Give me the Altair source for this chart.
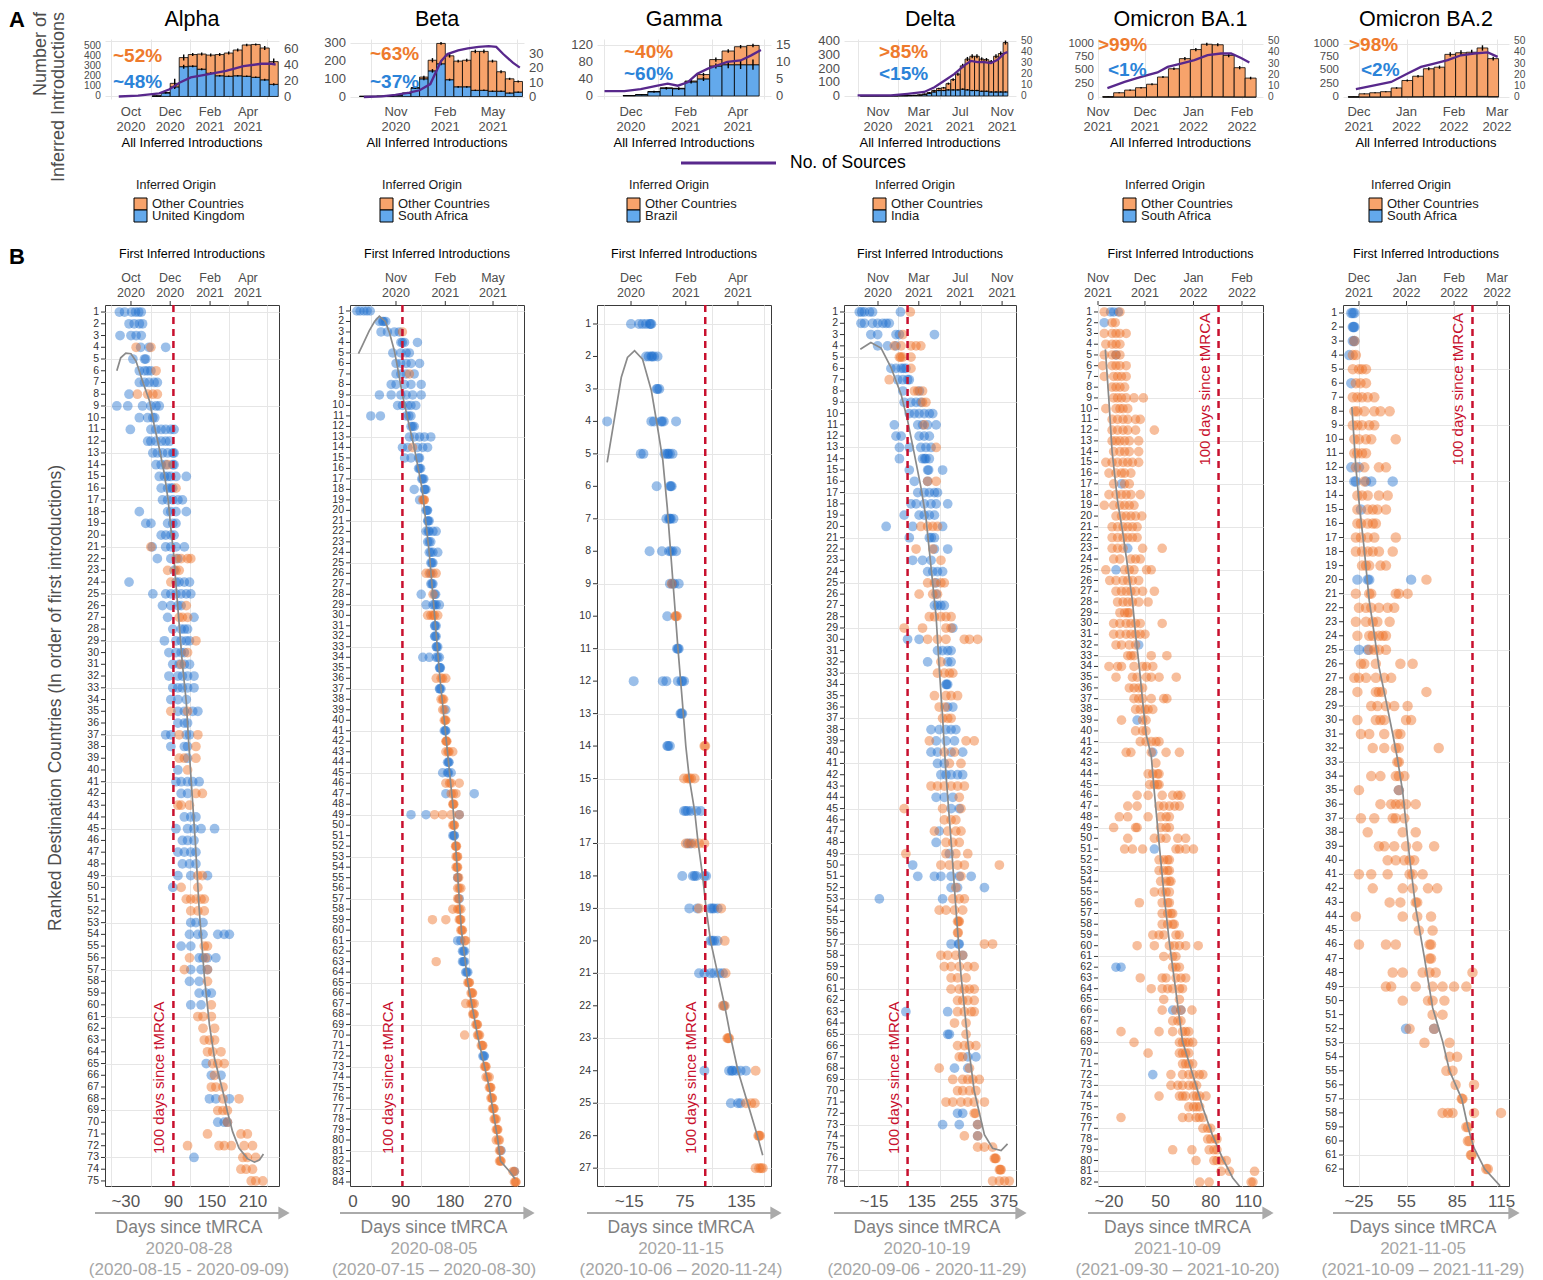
import altair as alt
import pandas as pd

alt.data_transformers.disable_max_rows()
FONT = "Liberation Sans"
BLUE_BAR, ORANGE_BAR = "#63A9EC", "#F7A36B"
BLUE_DOT, ORANGE_DOT = "#1B6DCC", "#EC6A1E"
BLUE_TXT, ORANGE_TXT = "#2B83D8", "#EE7A2C"
PURPLE = "#58288C"
RED = "#C8102E"
GRID = "#E6E6E6"
INK = "#4D4D4D"

# ---------------------------------------------------------------- labels
LINEAGES = ["Alpha", "Beta", "Gamma", "Delta", "Omicron BA.1", "Omicron BA.2"]
ORIGINS = ["United Kingdom", "South Africa", "Brazil", "India", "South Africa", "South Africa"]
TMRCA = ["2020-08-28", "2020-08-05", "2020-11-15", "2020-10-19", "2021-10-09", "2021-11-05"]
TMRCA_RANGE = ["(2020-08-15 - 2020-09-09)", "(2020-07-15 \u2013 2020-08-30)", "(2020-10-06 \u2013 2020-11-24)",
               "(2020-09-06 - 2020-11-29)", "(2021-09-30 \u2013 2021-10-20)", "(2021-10-09 \u2013 2021-11-29)"]
PCT_OTHER = ["~52%", "~63%", "~40%", ">85%", ">99%", ">98%"]
PCT_ORIGIN = ["~48%", "~37%", "~60%", "<15%", "<1%", "<2%"]
MONTHS = [["2020-10-01", "2020-12-01", "2021-02-01", "2021-04-01"],
          ["2020-11-01", "2021-02-01", "2021-05-01"],
          ["2020-12-01", "2021-02-01", "2021-04-01"],
          ["2020-11-01", "2021-03-01", "2021-07-01", "2021-11-01"],
          ["2021-11-01", "2021-12-01", "2022-01-01", "2022-02-01"],
          ["2021-12-01", "2022-01-01", "2022-02-01", "2022-03-01"]]
DAY_TICK_POS = [[26, 100, 160, 224], [8, 97, 189, 278], [14, 77, 141],
                [1, 142, 266, 384], [30, 63, 95, 119], [26, 57, 90, 119]]
DAY_TICK_LAB = [["~30", "90", "150", "210"], ["0", "90", "180", "270"], ["~15", "75", "135"],
                ["~15", "135", "255", "375"], ["~20", "50", "80", "110"], ["~25", "55", "85", "115"]]
LINE_DAYS = 100

# ---------------------------------------------------------------- panel A data (days since tMRCA)
BIN_START = [67, 20, 7, -39, 26, 19]
BIN_DAYS = [14, 16, 14, 14, 7, 7]
ALPHA_TOTAL = [5, 40, 130, 385, 415, 420, 410, 415, 430, 460, 510, 515, 480, 345]
ALPHA_ORIG = [5, 35, 95, 295, 300, 270, 230, 205, 200, 205, 200, 190, 165, 120]
ALPHA_ERR = [2, 6, 45, 30, 15, 15, 15, 15, 15, 15, 12, 10, 20, 30]
ALPHA_ERR_O = [2, 5, 20, 20, 10, 10, 10, 8, 8, 8, 8, 8, 10, 12]
BETA_TOTAL = [1, 1, 2, 2, 8, 20, 50, 110, 205, 300, 230, 200, 205, 255, 255, 200, 140, 100, 85]
BETA_ORIG = [1, 1, 2, 2, 8, 18, 48, 100, 145, 185, 95, 55, 55, 35, 35, 30, 30, 20, 25]
BETA_ERR = [0, 0, 0, 0, 2, 3, 5, 8, 12, 8, 10, 8, 8, 10, 10, 8, 8, 6, 6]
BETA_ERR_O = [0, 0, 0, 0, 2, 3, 5, 8, 10, 8, 6, 5, 5, 4, 4, 4, 4, 3, 3]
GAMMA_TOTAL = [1, 3, 10, 19, 18, 35, 50, 85, 105, 115, 118]
GAMMA_ORIG = [1, 3, 10, 18, 17, 33, 40, 70, 73, 73, 73]
GAMMA_ERR = [0, 1, 1, 2, 2, 3, 4, 5, 4, 4, 4]
GAMMA_ERR_O = [0, 1, 2, 3, 3, 4, 5, 6, 8, 10, 12]
DELTA_TOTAL = [1, 1, 1, 1, 1, 1, 2, 2, 3, 3, 4, 5, 8, 15, 25, 40, 55, 60, 90, 120, 160, 220, 270,
               290, 290, 270, 265, 250, 290, 310, 390]
DELTA_ORIG = [1, 1, 1, 1, 1, 1, 1, 1, 2, 2, 3, 4, 6, 10, 18, 30, 40, 40, 45, 45, 45, 50, 45,
              40, 40, 35, 35, 30, 30, 30, 30]
DELTA_ERR = [0, 0, 0, 0, 0, 0, 0, 0, 0, 0, 0, 0, 2, 3, 4, 5, 6, 6, 8, 10, 12, 15, 15, 15, 15,
             12, 12, 12, 15, 15, 15]
DELTA_ERR_O = [0, 0, 0, 0, 0, 0, 0, 0, 0, 0, 0, 0, 2, 2, 3, 4, 5, 5, 5, 5, 5, 5, 5, 5, 5, 4, 4,
               4, 4, 4, 4]
BA1_TOTAL = [5, 80, 130, 175, 240, 375, 530, 720, 890, 990, 980, 780, 550, 355]
BA1_ORIG = [1, 2, 2, 2, 3, 4, 4, 5, 5, 6, 5, 4, 3, 2]
BA1_ERR = [3, 10, 12, 15, 18, 20, 25, 30, 30, 30, 30, 35, 30, 25]
BA1_ERR_O = [0] * 14
BA2_TOTAL = [5, 60, 80, 100, 170, 310, 390, 530, 560, 800, 830, 840, 920, 720]
BA2_ORIG = [1, 2, 2, 3, 4, 5, 6, 8, 8, 10, 10, 10, 12, 8]
BA2_ERR = [3, 8, 10, 10, 15, 20, 25, 30, 30, 40, 45, 45, 50, 35]
BA2_ERR_O = [0] * 14

ALPHA_SRC_D = [15, 45, 78, 94, 111, 127, 155, 182, 209, 237, 253, 259]
ALPHA_SRC_V = [0, 1, 4, 9, 18, 24, 28, 32, 38, 41, 41, 40]
BETA_SRC_D = [28, 61, 87, 113, 132, 152, 172, 184, 204, 222, 242, 261, 275, 288, 306, 319]
BETA_SRC_V = [0, 0.5, 1.5, 3, 4.7, 9, 25, 30, 32.5, 34, 35, 35.5, 35, 30, 24, 20.5]
GAMMA_SRC_D = [-14, 8.5, 27, 46, 57.5, 69, 80, 91, 103, 114, 125, 140, 152, 163]
GAMMA_SRC_V = [1.4, 1.4, 2, 3, 3.6, 3, 4, 6.5, 8, 9, 10, 10.4, 11.9, 13.5]
DELTA_SRC_D = [-47, 51, 100, 149, 179, 208, 237, 267, 286, 306, 326, 345, 365, 385, 394]
DELTA_SRC_V = [0.6, 0.6, 2, 3.7, 8, 14, 20, 28, 32, 31, 31, 30, 33, 39, 40]
BA1_SRC_D = [29, 40, 50.5, 61, 67.5, 76, 84.6, 93, 101.6, 108, 114.4, 119.7]
BA1_SRC_V = [8, 13.5, 18, 22, 27, 30, 33, 37.5, 39, 39, 35, 31]
BA2_SRC_D = [24, 36, 47, 57.7, 66.4, 75, 83.8, 92.5, 101, 110, 116.4]
BA2_SRC_V = [7, 10.5, 13.5, 21, 27, 30, 33, 37.4, 39, 40, 36]

YL_MAJ = [[0, 100, 200, 300, 400, 500], [0, 100, 200, 300], [0, 40, 80, 120],
          [0, 100, 200, 300, 400], [0, 250, 500, 750, 1000], [0, 250, 500, 750, 1000]]
YR_MAJ = [[0, 20, 40, 60], [0, 10, 20, 30], [0, 5, 10, 15], [0, 10, 20, 30, 40, 50],
          [0, 10, 20, 30, 40, 50], [0, 10, 20, 30, 40, 50]]

# ---------------------------------------------------------------- panel B data: first introductions per ranked country
ALPHA_BLUE = [[16, 24, 35, 41, 46, 50], [31, 39, 47, 52], [17, 34, 42, 50], [49, 62, 88], [37, 55, 57],
              [47, 55, 60, 65], [47, 55, 62, 70, 75], [31], [12, 29, 52, 65, 73, 78], [47, 60, 68, 71],
              [33, 65, 73, 81, 88, 96, 101], [60, 65, 73, 81, 88, 94], [68, 75, 83, 91, 99, 101],
              [73, 81, 88, 99, 101], [78, 86, 91, 96, 104, 120], [81, 91, 96, 99], [83, 91, 99, 107, 114],
              [47, 91, 96, 104, 120], [57, 65, 91, 99, 104], [81, 88, 96, 101], [67, 88, 96, 104, 117],
              [75, 96, 107], [101], [31, 104, 109, 117, 125], [68, 88, 96, 104, 112, 120, 127],
              [83, 96, 107, 112], [91, 132], [99, 112, 117, 122], [86, 104, 112, 120, 125], [93, 104, 112, 117],
              [99, 109, 117, 125], [93, 107, 114, 122, 132], [99, 107, 114, 122, 132], [96, 107, 120],
              [107, 117, 130, 138], [107, 117, 122], [88, 96, 120, 125], [96, 117, 122], [122], [107],
              [104, 112, 122, 130, 140], [112, 122], [], [117, 127, 135], [104, 122, 132, 143, 164],
              [114, 122, 132], [107, 117, 127, 135], [114, 125, 135], [107, 127, 153], [99], [], [],
              [127, 135, 146], [125, 138, 146, 169, 179, 187], [112, 127], [140, 146, 153, 166],
              [127, 143, 153], [125, 140], [140, 151, 159], [127, 143], [], [], [], [], [151], [159, 174], [],
              [156, 166, 187], [], [169, 179, 184], [], [], [132], [], []]
ALPHA_ORANGE = [[], [], [], [42, 65], [], [73], [], [44, 60, 68, 75], [], [], [], [], [], [91], [], [104], [],
                [], [], [], [65], [104, 112, 122, 127], [91, 104, 109], [96], [], [120], [109, 114, 122], [],
                [135], [122], [112], [], [], [], [96, 122], [], [109, 138], [135], [109, 117, 135], [122], [],
                [135, 145], [107, 112, 125], [], [], [], [], [], [138, 145], [112, 138],
                [120, 127, 135, 143, 148], [127, 138, 148], [], [], [148, 153], [125, 150], [117, 153], [153],
                [], [159], [138, 146, 159], [146, 164], [148, 156, 164], [153, 161, 174], [161, 169, 179],
                [164], [159, 166, 177], [177, 202], [169, 177, 184], [184], [153, 205, 215],
                [122, 171, 179, 190, 210, 223], [208, 215, 228], [205, 213, 223], [221, 228, 239]]
BETA_BLUE = [[15, 21, 28, 34, 40], [57, 63, 65, 69], [60, 72, 85, 94], [97, 100, 104, 128], [82, 97, 107, 113],
             [88, 97, 107, 116, 132], [88, 97, 107, 122], [79, 88, 104, 116, 135], [57, 79, 97, 107, 119, 135],
             [91, 100, 110, 116, 125], [41, 59, 107, 112, 116], [116, 119, 122], [113, 122, 132, 141, 153],
             [100, 110, 128, 138, 147], [104, 116, 130, 132], [130, 132, 134], [136, 138, 140],
             [122, 141, 142, 144], [132], [144, 146, 147], [147, 148, 150], [144, 148, 150, 157, 163],
             [147, 150, 153], [150, 153, 157, 166], [153, 155, 157], [153], [153, 155, 157], [135, 160, 162],
             [144, 157, 160, 163, 169], [], [160, 161, 163], [160, 161, 163], [163, 164, 166],
             [138, 150, 163, 166, 169], [169, 170, 171], [], [169, 170, 172], [], [181], [], [178, 180, 181],
             [], [], [184, 186, 187], [175, 184, 186, 191], [], [181, 234], [], [116, 144, 206], [],
             [194, 196, 197], [], [], [], [203], [], [206], [], [], [], [203, 209], [212, 214, 216],
             [212, 214, 216], [218, 220, 222], [], [], [], [], [], [], [], [250, 252, 253], [], [], [], [], [],
             [], [], [], [284], [], [309], []]
BETA_ORANGE = [[], [], [100], [], [], [], [113], [], [], [], [], [], [], [119], [], [], [], [], [138, 140, 141],
               [], [], [], [], [], [], [144, 150, 157, 163], [], [157], [], [147, 153, 157, 160, 166], [], [], [],
               [], [], [163, 172, 175, 181], [], [172, 175, 177], [175, 178], [178, 180, 181], [],
               [181, 182, 183], [181, 185, 187, 194], [], [], [181, 188, 191, 206], [191, 195, 200],
               [194, 195, 196], [160, 175, 191, 206], [194, 196, 197], [], [199, 200, 201], [200, 202, 203],
               [200, 202, 203], [203, 205], [203, 206, 209], [203, 205], [194, 203, 206, 209],
               [156, 181, 206, 208, 209], [209, 211, 212], [216, 218], [], [163], [], [222, 224, 225],
               [228, 230, 231], [218, 228, 231, 234], [231, 233, 234], [237, 239, 240], [216, 240, 242, 244],
               [247, 249, 250], [], [253, 255, 256], [256, 259, 262], [262, 264, 265], [265, 267, 268],
               [268, 270, 271], [271, 273, 275], [275, 277, 278], [275, 279, 281], [281, 283],
               [281, 283, 284], [306, 309], [309, 311, 312]]
GAMMA_BLUE = [[16, 25, 29, 33, 37, 38, 39], [33, 36, 39, 40, 42, 46], [45, 46, 48], [-11, 39, 42, 50, 51, 53, 67],
              [27, 30, 54, 57, 58, 60, 63], [45, 60, 61, 62], [56, 59, 60, 61, 64], [37, 51, 59, 61, 63, 67],
              [60, 63, 65, 70], [57], [68, 69, 70], [19, 52, 56, 69, 73, 74, 76], [72, 73, 74], [57, 58, 60],
              [], [76, 78, 80, 84, 90, 95], [80, 84], [74, 86, 88, 90, 99, 101],
              [82, 91, 106, 108, 110, 114], [106, 108, 110, 114], [93, 99, 106, 110, 116, 120], [121], [],
              [99, 127, 130, 131, 135, 140, 146], [129, 137, 140], [], []]
GAMMA_ORANGE = [[], [], [], [], [], [], [], [], [62], [66, 67, 68], [], [], [], [99, 100],
                [76, 80, 82, 84, 88], [], [78, 82, 88, 93, 99], [], [93, 118], [122], [123], [120, 122],
                [125, 126, 127], [157], [146, 152, 156], [160, 161, 162], [157, 161, 163, 165]]
DELTA_BLUE = [[-42, -35, -27, -12, -3, 79], [-37, -27, -3, 12, 27, 37, 46], [-8, 12, 66, 76, 179], [12, 41, 66],
              [], [51, 66, 81, 88, 95], [71, 86, 100, 105], [86, 135], [90, 110, 125, 139],
              [105, 120, 134, 149, 164, 174], [61, 130, 144, 159, 184], [66, 81, 134, 149, 164],
              [76, 105, 139, 154, 169], [76, 144, 150, 154, 164], [105, 159, 162, 203], [120, 159],
              [130, 149, 164, 179, 188], [110, 125, 149, 169, 184, 218], [90, 134, 149, 164, 179],
              [37, 115, 203], [105, 164, 170, 179], [179, 218], [115, 144, 169], [159, 174, 188, 203], [184],
              [184], [179, 188, 198, 208], [], [233], [100, 134], [188, 203, 218, 228], [159, 218, 228], [],
              [213, 215, 218], [], [218, 233], [], [169, 193, 213, 228, 242], [184, 213, 238],
              [169, 188, 228, 262], [188, 208], [198, 213, 228, 247, 262], [], [184, 208, 233], [228, 252], [],
              [193], [184], [223], [115], [130, 179, 198, 228, 252, 287], [228, 247, 326], [17, 203], [], [],
              [], [228, 250, 252], [262], [], [], [], [], [95, 218], [], [218, 223], [], [277, 301], [238, 277],
              [], [], [], [247, 262], [203, 252, 306], [306], [], [], [], []]
DELTA_ORANGE = [[108], [], [86], [61, 81, 110, 125, 139], [76, 80, 86, 110], [110], [46], [120, 130, 144],
                [144, 154], [], [149], [], [184], [], [], [159, 184], [], [], [], [139, 159, 174, 188], [],
                [125, 174], [198], [], [159, 179, 198, 208], [134, 174, 188], [], [164, 179, 198, 213, 228],
                [90, 144, 213, 228], [159, 188, 213, 267, 282, 306], [], [198], [188, 208, 223, 233], [],
                [179, 213, 228, 247], [193, 210], [203, 218, 228], [], [164, 272, 296], [208, 238], [223, 257],
                [], [169, 188, 208, 228, 247, 267], [252], [90, 203, 257], [208, 228, 242],
                [179, 218, 242, 257], [213, 233, 252], [95, 213, 242, 277], [198, 223, 247, 267, 370], [257],
                [242], [233, 252, 267], [193, 213, 238, 262], [247, 250, 252], [247, 249], [326, 350],
                [198, 218, 242, 262], [208, 228, 252, 277, 296], [228, 247, 272], [228, 252, 267, 282, 296],
                [247, 262, 277, 296], [247, 267, 287, 296], [238, 272], [272], [247, 267, 282, 301], [252, 262],
                [193, 282], [233, 262, 277, 292, 311], [247, 262, 282, 301], [213, 233, 257, 277, 296, 326],
                [296, 300], [306], [267, 306], [306, 326, 350], [355, 358, 360], [370, 373, 375],
                [350, 370, 385, 399]]
BA1_BLUE = [[31, 33, 36], [27], [], [], [34.5], [], [], [], [], [], [], [], [], [], [], [], [38], [], [], [], [],
            [], [42], [], [34.5], [], [], [], [], [], [], [49], [], [], [], [], [], [], [48], [], [], [58], [],
            [], [], [], [], [], [], [], [59], [], [], [], [], [], [], [], [], [], [], [34.5, 37.7], [], [], [],
            [70.7, 76], [], [], [], [], [], [58], [], [], [], [], [], [], [], [], [], []]
BA1_ORANGE = [[27, 37], [32, 34], [27, 32, 34.5, 37, 41], [28, 32, 34.5, 37], [27, 32, 34.5, 37],
              [26, 32, 34.5, 37, 41], [27, 33, 35.5, 38, 41], [32, 34.5, 37, 40], [33, 35.5, 38, 41, 46, 52],
              [28, 34.5, 37, 39, 42], [32, 35.5, 39, 42, 47, 50], [32, 35.5, 39, 42, 47, 59],
              [32, 34.5, 37, 40, 43, 49], [33, 37, 40, 43, 49], [28, 32, 35.5, 39, 42, 45, 49],
              [30, 34.5, 38, 40, 44], [33, 40, 43], [30, 34.5, 38, 41, 44, 50], [27, 33, 37, 40, 43, 46],
              [34.5, 38, 41, 44, 47, 51], [32, 35.5, 39, 42, 45, 48], [32, 35.5, 39, 42, 45, 48],
              [32, 35.5, 39, 51.5, 64], [33, 37, 44, 47, 50], [28, 40, 43, 46, 54, 57],
              [30.5, 34.5, 39, 42, 45, 49], [34.5, 38, 41, 44, 47, 51.5, 59], [35.5, 39, 42, 45, 49, 55],
              [37, 40, 42, 43], [33, 37, 41, 44, 47, 50, 64], [33, 37, 41, 44, 47, 50, 53], [34.5, 38, 43, 47],
              [42, 44, 46, 57, 67], [30, 35.5, 38, 46, 51.5, 54, 58], [34.5, 45, 48, 54, 57, 62, 73],
              [43, 46, 49, 51.5], [46, 49, 51.5, 57, 65, 67], [47, 50, 53, 55, 58], [38, 51.5, 53.7],
              [47, 51.5, 53.7], [50, 53.7, 57, 60, 62], [41, 44, 57, 66.5, 75], [60], [55, 58, 61, 62],
              [56, 59, 61, 62], [48, 55, 64, 70.7, 74, 76], [42, 48, 62, 65, 68.6, 72, 75],
              [36.6, 42, 55, 63, 66.5, 68.6], [33, 47, 48, 63, 66.5, 68.6], [42, 59, 63, 66.5, 74, 79],
              [40, 45, 51.5, 72.8, 75, 79, 84], [62, 65, 67.5, 68.6], [62, 65, 67.5, 68.6],
              [63, 66.5, 68.6, 69.6], [59, 64, 66.5, 68.6], [49.4, 64, 67.5, 68.6], [64, 67.5, 69.6, 70.7],
              [64, 67.5, 70.7, 71.7], [58, 62, 65, 72.8, 75], [48, 59, 68.6, 71.7, 75, 79, 87],
              [65, 70.7, 72.8], [70.7, 72.8, 75], [50, 64, 66.5, 72.8, 76, 79], [57, 64, 67.5, 70.7, 75, 77],
              [65, 75], [64, 72.8, 76, 83], [70.7, 74, 76], [37.7, 62, 70.7, 77, 79, 81],
              [46, 75, 77, 79, 81, 83.5], [55, 75, 77, 79, 81], [77, 79, 81, 83.5],
              [69.6, 77, 81, 84, 87.7, 90], [69.6, 74, 77, 81, 84, 86], [62, 75, 77, 79, 84, 86, 88, 92],
              [81, 84, 86, 88], [37.7, 77, 81, 85.6, 87.7, 90], [90, 93, 95], [93, 95, 98, 99],
              [70.7, 83, 94, 97, 99], [85.6, 97, 99, 101.6, 105], [101.6, 107, 123], [88, 94, 120.8, 122]]
BA2_BLUE = [[21, 22, 23], [22, 22.5, 23], [22, 23], [19.7], [], [21], [], [], [], [], [], [21, 26],
            [23, 24, 30.6, 34, 48], [], [27.3], [], [], [], [], [25, 31.7, 32.7, 60], [], [], [], [],
            [26, 31.7], [], [], [], [], [], [], [], [], [], [52], [], [], [], [], [], [], [], [], [], [], [], [],
            [], [], [], [], [56.7, 75], [], [], [], [], [], [], [], [], [], []]
BA2_ORANGE = [[], [], [23], [22, 24], [22, 26, 28, 30.6], [24, 27, 30.6], [22, 25, 28, 31.7, 36],
              [23, 25, 29.5, 36, 40, 46], [22, 25, 28, 32.7, 36], [23, 26, 30.6, 34, 50], [23, 25, 28, 30.6],
              [24, 29.5, 39, 43.6], [29.5], [25, 28, 31.7, 39, 44.7], [25, 31.7, 35, 38, 43.6],
              [25, 27.3, 31.7, 35, 37], [24, 27.3, 31.7, 36, 50], [24, 28, 31.7, 35, 39, 48],
              [28, 30.6, 32.7, 40, 43.6], [70], [24, 32.7, 34, 50, 52, 57.7], [26, 30.6, 34, 39, 44.7, 49],
              [24, 30.6, 35, 38, 46], [25, 32.7, 35, 39, 41.5, 43.6], [32.7, 36, 39, 43.6],
              [27.3, 29.5, 37, 53, 61], [23, 26, 30.6, 37, 42.5, 47], [25, 37, 39, 41, 70],
              [34, 38, 43.6, 49, 57.7], [25, 37, 40, 42.5, 56.7, 60], [27.3, 32.7, 42.5, 51, 53],
              [35, 42.5, 50, 52, 78], [51, 52], [34, 40, 50, 52, 55.6], [26, 52], [40, 47, 50, 53, 56.7, 63],
              [27.3, 36, 48, 50, 55.6], [31.7, 54.5, 63], [39, 42.5, 49, 56.7, 64, 75], [44.7, 50, 55.6, 59, 62],
              [26, 34, 44.7, 59, 61, 67.5], [35, 54.5, 61, 71, 77], [46, 53, 63, 64], [24, 54.5, 64, 73],
              [65, 74], [26, 43.6, 50, 72, 73], [72, 73], [48, 54.5, 67.5, 72, 76, 100],
              [43.6, 47, 63, 74, 80.5, 88, 96], [54.5, 71, 74, 81.7], [74, 80.5], [59, 75], [68.7, 85],
              [85, 90], [83, 87], [89, 101], [93, 93.5], [80.5, 84, 87, 101, 118.6], [96, 97], [97, 98],
              [99, 99.5], [109, 110]]

# fitted trend curves: (rank, days since tMRCA)
ALPHA_CURVE = [(6.0, 12), (4.9, 18), (4.5, 26), (4.55, 34), (5.2, 42), (6.9, 52), (8.6, 63), (10.6, 70),
               (12.6, 78), (14.8, 86), (17.1, 92), (19.4, 96), (21.4, 100), (24.2, 104), (27.6, 109), (31, 114),
               (34.2, 120), (37, 123), (40.4, 127), (46.1, 134), (51.8, 140), (57.5, 148), (61.7, 156),
               (64.6, 164), (67.4, 177), (69.1, 184), (70.8, 192), (72.2, 202), (73.1, 215), (73.4, 226),
               (73.2, 234), (72.7, 240)]
BETA_CURVE = [(5.06, 18), (4.2, 26), (2.9, 38), (2.0, 48), (1.5, 57), (2.0, 68), (3.1, 76), (4.8, 85),
              (6.4, 91), (9, 100), (12, 113), (14, 122), (18, 137), (24, 150), (30, 160), (36, 170), (42, 182),
              (48, 194), (54, 202), (60, 210), (65, 222), (70, 240), (75, 262), (80, 278), (82, 283), (83, 300),
              (83.7, 310)]
GAMMA_CURVE = [(5.26, -11), (2.64, 5), (2.03, 12), (1.82, 20), (2.08, 29), (3.05, 39), (4.18, 46), (5.2, 52),
               (6.65, 57), (8.08, 61), (9.5, 65), (10.96, 69), (12.6, 74), (14, 78), (15, 82), (16, 88),
               (17, 92), (18, 97), (19, 101), (20, 106), (21, 114), (22, 122), (23, 129), (24, 137), (25, 148),
               (26, 159), (26.6, 165)]
DELTA_CURVE = [(4.3, -39), (3.7, -8), (4.2, 22), (5.9, 51), (8.3, 81), (10.6, 100), (13.6, 120), (16.5, 139),
               (19.2, 154), (23.6, 169), (28, 184), (32.5, 193), (36.9, 203), (42, 213), (47.9, 228),
               (53.8, 242), (59.7, 257), (65.6, 277), (70, 296), (73.9, 326), (75.1, 350), (75.3, 375),
               (74.7, 394)]
BA1_CURVE = [(4.48, 27.7), (9.3, 30), (14, 32), (18.6, 35.5), (21.7, 39), (24.8, 42), (27.9, 45), (31, 47),
             (34.1, 49.4), (37.2, 51.5), (40.3, 53.7), (42.3, 57), (45.7, 59), (50.4, 62), (55, 65), (59.7, 68.6),
             (64.3, 72.8), (68.9, 77), (72, 83.5), (75.1, 90), (77.6, 96), (79.8, 102.6), (81.6, 109),
             (82.5, 114), (82.7, 118), (82.5, 121)]
BA2_CURVE = [(7.7, 21.4), (12, 24), (14.4, 26), (17.9, 29.5), (21.5, 32.7), (23.9, 36), (26.2, 39), (28.6, 43.6),
             (31, 48), (32.7, 51), (35.1, 54.5), (39.8, 59), (43.4, 63), (46.9, 68.6), (50.5, 74), (52.9, 80.5),
             (55, 85), (57, 93), (59, 97), (60.5, 101), (62, 108), (63.2, 118)]

TOTALS = [ALPHA_TOTAL, BETA_TOTAL, GAMMA_TOTAL, DELTA_TOTAL, BA1_TOTAL, BA2_TOTAL]
ORIGS = [ALPHA_ORIG, BETA_ORIG, GAMMA_ORIG, DELTA_ORIG, BA1_ORIG, BA2_ORIG]
ERRS = [ALPHA_ERR, BETA_ERR, GAMMA_ERR, DELTA_ERR, BA1_ERR, BA2_ERR]
ERRS_O = [ALPHA_ERR_O, BETA_ERR_O, GAMMA_ERR_O, DELTA_ERR_O, BA1_ERR_O, BA2_ERR_O]
SRC_D = [ALPHA_SRC_D, BETA_SRC_D, GAMMA_SRC_D, DELTA_SRC_D, BA1_SRC_D, BA2_SRC_D]
SRC_V = [ALPHA_SRC_V, BETA_SRC_V, GAMMA_SRC_V, DELTA_SRC_V, BA1_SRC_V, BA2_SRC_V]
BLUES = [ALPHA_BLUE, BETA_BLUE, GAMMA_BLUE, DELTA_BLUE, BA1_BLUE, BA2_BLUE]
ORANGES = [ALPHA_ORANGE, BETA_ORANGE, GAMMA_ORANGE, DELTA_ORANGE, BA1_ORANGE, BA2_ORANGE]
CURVES = [ALPHA_CURVE, BETA_CURVE, GAMMA_CURVE, DELTA_CURVE, BA1_CURVE, BA2_CURVE]

# ---------------------------------------------------------------- layout (scales / sizes)
PANEL_W = [174, 174, 174, 172, 165, 166]
GAPS = [71, 73, 73, 82, 80]
XDOM = [[-6.4, 264.2], [2.2, 326.8], [-22.5, 174.4], [-87, 418.9], [23, 128.4], [15.6, 123.8]]
YDOM = [[0.4, 75.43], [0.43, 84.38], [0.415, 27.55], [0.38, 78.44], [0.35, 82.37], [0.43, 63.21]]
YL_DOM = [[-25, 569], [-14, 325], [-7, 133], [-22, 416], [-37, 1088], [-37, 1088]]
YR_DOM = [[-3.1, 72], [-1.4, 40.5], [-0.9, 16.7], [-2.7, 52], [-1.8, 52], [-1.8, 52]]
PCT_POS = [(8, 17, 8, 43), (20, 15, 20, 43), (27, 13, 27, 35), (35, 13, 35, 35), (0, 6, 10, 31), (6, 6, 18, 31)]
LEG_X = [31, 32, 32, 31, 27, 28]
DOT_SIZE = [95, 90, 100, 95, 92, 110]
TOP_H, BOT_H = 60, 881
ONE = pd.DataFrame({"a": [0]})


def month_ticks(i):
    t = pd.Timestamp(TMRCA[i])
    majors = [(pd.Timestamp(m) - t).days for m in MONTHS[i]]
    d0, d1 = XDOM[i]
    grid = list(majors)
    for a, b in zip(majors[:-1], majors[1:]):
        grid.append((a + b) / 2)
    grid.append(majors[0] - (majors[1] - majors[0]) / 2)
    grid.append(majors[-1] + (majors[-1] - majors[-2]) / 2)
    grid = sorted(g for g in grid if d0 - 1e-6 <= g <= d1 + 1e-6)
    mdf = pd.DataFrame({"day": majors,
                        "mon": [pd.Timestamp(m).strftime("%b") for m in MONTHS[i]],
                        "yr": [pd.Timestamp(m).strftime("%Y") for m in MONTHS[i]]})
    return mdf, grid


def minor_vals(maj, dom):
    step = maj[1] - maj[0]
    vals = list(maj) + [m + step / 2 for m in [maj[0] - step] + list(maj)]
    return sorted(v for v in vals if dom[0] <= v <= dom[1])


def label_size(maj, dom, H):
    gap = (maj[1] - maj[0]) * H / (dom[1] - dom[0])
    return 13 if gap >= 13.5 else (11.5 if gap >= 12 else 10.2)


def txt(text, x, y, size, color="black", **kw):
    return alt.Chart(ONE).mark_text(text=text, fontSize=size, color=color, baseline="middle", **kw).encode(
        x=alt.value(x), y=alt.value(y))


def top_chart(i):
    W, H = PANEL_W[i], TOP_H
    xs = alt.Scale(domain=XDOM[i], nice=False, zero=False)
    yl = alt.Scale(domain=YL_DOM[i], nice=False, zero=False)
    l0, l1 = YL_DOM[i]
    r0, r1 = YR_DOM[i]

    def to_left(r):
        return l0 + (r - r0) * (l1 - l0) / (r1 - r0)

    mdf, grid = month_ticks(i)
    recs, errs = [], []
    for k, (tot, org) in enumerate(zip(TOTALS[i], ORIGS[i])):
        x0 = BIN_START[i] + k * BIN_DAYS[i]
        x1 = x0 + BIN_DAYS[i]
        recs.append(dict(x0=x0, x1=x1, y0=0, y1=org, col=BLUE_BAR))
        recs.append(dict(x0=x0, x1=x1, y0=org, y1=tot, col=ORANGE_BAR))
        for v, e in ((tot, ERRS[i][k]), (org, ERRS_O[i][k])):
            if e > 0:
                errs.append(dict(xm=(x0 + x1) / 2, lo=v - e, hi=v + e))
    bars = pd.DataFrame(recs)
    errdf = pd.DataFrame(errs)
    lmaj = YL_MAJ[i]
    xaxis = alt.Axis(values=grid, labels=False, title=None, ticks=False, domain=False, grid=True,
                     gridColor=GRID)
    yaxis_l = alt.Axis(values=minor_vals(lmaj, YL_DOM[i]), labels=False, title=None, ticks=False,
                       domain=False, grid=True, gridColor=GRID)
    b = alt.Chart(bars).mark_bar(stroke="black", strokeWidth=0.8).encode(
        x=alt.X("x0:Q", scale=xs, axis=xaxis), x2="x1:Q",
        y=alt.Y("y1:Q", scale=yl, axis=yaxis_l), y2="y0:Q", color=alt.Color("col:N", scale=None))
    e = alt.Chart(errdf).mark_rule(color="black", strokeWidth=1.4).encode(
        x=alt.X("xm:Q", scale=xs), y=alt.Y("lo:Q", scale=yl), y2="hi:Q")
    src = pd.DataFrame({"d": SRC_D[i], "v": [to_left(v) for v in SRC_V[i]]})
    ln = alt.Chart(src).mark_line(color=PURPLE, strokeWidth=2.3).encode(
        x=alt.X("d:Q", scale=xs), y=alt.Y("v:Q", scale=yl))
    ldf = pd.DataFrame({"lab": [str(v) for v in lmaj], "y": lmaj})
    llab = alt.Chart(ldf).mark_text(fontSize=label_size(lmaj, YL_DOM[i], H), color=INK, align="right",
                                    baseline="middle").encode(
        x=alt.value(-4), y=alt.Y("y:Q", scale=yl), text="lab:N")
    rdf = pd.DataFrame({"lab": [str(v) for v in YR_MAJ[i]], "y": [to_left(v) for v in YR_MAJ[i]]})
    rlab = alt.Chart(rdf).mark_text(fontSize=label_size(YR_MAJ[i], YR_DOM[i], H), color=INK, align="left",
                                    baseline="middle").encode(
        x=alt.value(W + 5), y=alt.Y("y:Q", scale=yl), text="lab:N")
    mon = alt.Chart(mdf).mark_text(fontSize=13, color=INK, baseline="middle").encode(
        x=alt.X("day:Q", scale=xs), y=alt.value(H + 13), text="mon:N")
    yr = alt.Chart(mdf).mark_text(fontSize=13, color=INK, baseline="middle").encode(
        x=alt.X("day:Q", scale=xs), y=alt.value(H + 28), text="yr:N")
    px1, py1, px2, py2 = PCT_POS[i]
    lx = LEG_X[i]
    layers = [
        b, e, ln, llab, rlab, mon, yr,
        txt("All Inferred Introductions", W / 2, H + 44, 13),
        txt(PCT_OTHER[i], px1, py1, 19, ORANGE_TXT, fontWeight="bold", align="left"),
        txt(PCT_ORIGIN[i], px2, py2, 19, BLUE_TXT, fontWeight="bold", align="left"),
        txt(LINEAGES[i], W / 2, -19, 21.5),
        # legend (Inferred Origin)
        txt("Inferred Origin", lx, 146, 12.5, "#1a1a1a", align="left"),
        alt.Chart(ONE).mark_rect(fill=ORANGE_BAR, stroke="black", strokeWidth=1).encode(
            x=alt.value(lx - 2), x2=alt.value(lx + 11), y=alt.value(159), y2=alt.value(171)),
        alt.Chart(ONE).mark_rect(fill=BLUE_BAR, stroke="black", strokeWidth=1).encode(
            x=alt.value(lx - 2), x2=alt.value(lx + 11), y=alt.value(171), y2=alt.value(183)),
        txt("Other Countries", lx + 16, 165, 13, "#1a1a1a", align="left"),
        txt(ORIGINS[i], lx + 16, 177, 13, "#1a1a1a", align="left"),
    ]
    if i == 0:
        layers += [
            txt("A", -88, -19, 22, fontWeight="bold"),
            txt("Number of", -64, -27, 18, INK, angle=270, align="right"),
            txt("Inferred Introductions", -46, -27, 18, INK, angle=270, align="right"),
        ]
    if i == 2:
        layers += [
            alt.Chart(ONE).mark_rule(color=PURPLE, strokeWidth=3).encode(
                x=alt.value(84), x2=alt.value(179), y=alt.value(124)),
            txt("No. of Sources", 193, 124, 17.5, align="left"),
        ]
    return alt.layer(*layers).properties(width=W, height=H, view=alt.ViewBackground(strokeOpacity=0))


def bottom_chart(i):
    W, H = PANEL_W[i], BOT_H
    d0, d1 = XDOM[i]
    xs = alt.Scale(domain=[d0, d1], nice=False, zero=False)
    ys = alt.Scale(domain=YDOM[i], reverse=True, nice=False, zero=False)
    n = len(BLUES[i])
    recs = []
    for r, (bl, ol) in enumerate(zip(BLUES[i], ORANGES[i]), start=1):
        recs += [dict(rank=r, day=d, col=BLUE_DOT) for d in bl]
        recs += [dict(rank=r, day=d, col=ORANGE_DOT) for d in ol]
    dots = pd.DataFrame(recs)
    mdf, grid = month_ticks(i)
    xaxis = alt.Axis(orient="top", values=grid, labels=False, title=None, ticks=False, domain=False,
                     grid=True, gridColor=GRID)
    yaxis = alt.Axis(values=list(range(1, n + 1)), labels=False, title=None, ticks=False, domain=False,
                     grid=True, gridColor=GRID)
    pts = alt.Chart(dots).mark_circle(size=DOT_SIZE[i], opacity=0.44).encode(
        x=alt.X("day:Q", scale=xs, axis=xaxis), y=alt.Y("rank:Q", scale=ys, axis=yaxis),
        color=alt.Color("col:N", scale=None))
    cv = pd.DataFrame(CURVES[i], columns=["rank", "day"])
    cv["k"] = range(len(cv))
    curve = alt.Chart(cv).mark_line(color="#8a8a8a", strokeWidth=1.7, clip=True).encode(
        x=alt.X("day:Q", scale=xs), y=alt.Y("rank:Q", scale=ys), order="k:Q")
    vline = alt.Chart(pd.DataFrame({"d": [LINE_DAYS]})).mark_rule(
        color=RED, strokeDash=[7, 5], strokeWidth=2.5).encode(x=alt.X("d:Q", scale=xs))
    lab_d = LINE_DAYS - 14 * (d1 - d0) / W
    at_top = i >= 4
    vlab = alt.Chart(pd.DataFrame({"d": [lab_d]})).mark_text(
        text="100 days since tMRCA", angle=270, color=RED, fontSize=15,
        align="right" if at_top else "left", baseline="middle").encode(
        x=alt.X("d:Q", scale=xs), y=alt.value(8 if at_top else 849))
    rows = pd.DataFrame({"rank": list(range(1, n + 1))})
    rowlab = alt.Chart(rows).mark_text(fontSize=10.5, color="#333333", align="right", baseline="middle").encode(
        x=alt.value(-6), y=alt.Y("rank:Q", scale=ys), text="rank:N")
    rowtick = alt.Chart(rows).mark_rule(color="#333333", strokeWidth=1).encode(
        x=alt.value(-4), x2=alt.value(0), y=alt.Y("rank:Q", scale=ys))
    mon = alt.Chart(mdf).mark_text(fontSize=12.5, color=INK, baseline="middle").encode(
        x=alt.X("day:Q", scale=xs), y=alt.value(-27), text="mon:N")
    yr = alt.Chart(mdf).mark_text(fontSize=12.5, color=INK, baseline="middle").encode(
        x=alt.X("day:Q", scale=xs), y=alt.value(-12), text="yr:N")
    mtick = alt.Chart(mdf).mark_rule(color="#333333", strokeWidth=1).encode(
        x=alt.X("day:Q", scale=xs), y=alt.value(-4), y2=alt.value(0))
    ticks = pd.DataFrame({"pos": DAY_TICK_POS[i], "lab": DAY_TICK_LAB[i]})
    tlab = alt.Chart(ticks).mark_text(fontSize=17, color="#555555", baseline="middle").encode(
        x=alt.X("pos:Q", scale=xs), y=alt.value(H + 16), text="lab:N")
    arrow = alt.Chart(ONE).mark_rule(color="#AAAAAA", strokeWidth=2).encode(
        x=alt.value(-10), x2=alt.value(W + 2), y=alt.value(H + 27))
    head = alt.Chart(ONE).mark_point(shape="triangle-right", filled=True, color="#AAAAAA", size=170,
                                     opacity=1).encode(x=alt.value(W + 5), y=alt.value(H + 27))
    cx = W / 2 - 3
    layers = [pts, curve, vline, vlab, rowtick, rowlab, mtick, mon, yr, tlab, arrow, head,
              txt("First Inferred Introductions", W / 2, -51, 12.5),
              txt("Days since tMRCA", cx, H + 42, 17.5, "#7F7F7F"),
              txt(TMRCA[i], cx, H + 63, 17, "#A6A6A6"),
              txt(TMRCA_RANGE[i], cx, H + 84, 17, "#A6A6A6")]
    if i == 0:
        layers += [
            txt("B", -88, -48, 22, fontWeight="bold"),
            txt("Ranked Destination Countries (In order of first introductions)", -49, 393, 17.5, INK,
                angle=270),
        ]
    return alt.layer(*layers).properties(width=W, height=H)


def spacer(w):
    return alt.Chart(ONE).mark_text(text="").encode(x=alt.value(0), y=alt.value(0)).properties(
        width=w, height=10, view=alt.ViewBackground(strokeOpacity=0))


def row(charts):
    items = []
    for k, c in enumerate(charts):
        items.append(c)
        if k < len(GAPS):
            items.append(spacer(GAPS[k]))
    return alt.hconcat(*items, spacing=0, bounds="flush")


top_row = row([top_chart(i) for i in range(6)])
bot_row = row([bottom_chart(i) for i in range(6)])

chart = alt.vconcat(top_row, bot_row, spacing=266, bounds="flush").properties(
    padding={"left": 0, "top": 1, "right": 4, "bottom": 2}).configure(
    font=FONT).configure_view(stroke="#3a3a3a", strokeWidth=1).configure_axis(
    labelFont=FONT, titleFont=FONT).configure_text(font=FONT)

chart.save("out.html", embed_options={"renderer": "svg", "actions": False})
